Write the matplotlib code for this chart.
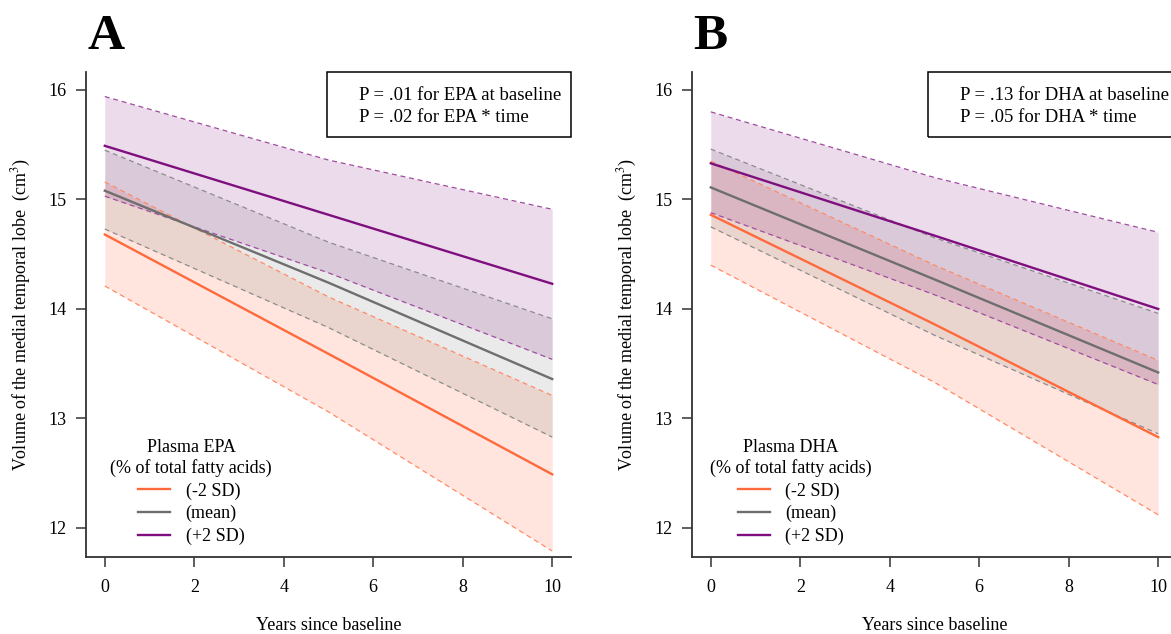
import matplotlib
matplotlib.use("Agg")
import matplotlib.pyplot as plt
from matplotlib.patches import Rectangle
from matplotlib.lines import Line2D

plt.rcParams["font.family"] = ["Liberation Serif", "DejaVu Serif"]
plt.rcParams["mathtext.fontset"] = "stix"

ORANGE = "#FF6A3D"; ORANGE_D = "#FF8A66"
GREY = "#6E6E6E"; GREY_D = "#8C8C8C"
PURPLE = "#7F0F7E"; PURPLE_D = "#A04CA0"
AXC = "#333333"

years = [0, 5, 10]

# Panel A: plasma EPA (fit, upper CI, lower CI)
epa_lo_fit = [14.68, 13.59, 12.49]
epa_lo_upper = [15.16, 14.11, 13.21]
epa_lo_lower = [14.21, 13.06, 11.79]
epa_mean_fit = [15.08, 14.24, 13.36]
epa_mean_upper = [15.45, 14.61, 13.91]
epa_mean_lower = [14.73, 13.83, 12.83]
epa_hi_fit = [15.49, 14.86, 14.23]
epa_hi_upper = [15.94, 15.36, 14.91]
epa_hi_lower = [15.03, 14.33, 13.54]

# Panel B: plasma DHA
dha_lo_fit = [14.86, 13.86, 12.83]
dha_lo_upper = [15.35, 14.40, 13.53]
dha_lo_lower = [14.40, 13.33, 12.12]
dha_mean_fit = [15.11, 14.27, 13.42]
dha_mean_upper = [15.46, 14.65, 13.96]
dha_mean_lower = [14.75, 13.76, 12.86]
dha_hi_fit = [15.33, 14.67, 14.00]
dha_hi_upper = [15.80, 15.20, 14.70]
dha_hi_lower = [14.88, 14.13, 13.31]

group_labels = ["(-2 SD)", "(mean)", "(+2 SD)"]
x_ticks = [0, 2, 4, 6, 8, 10]
y_ticks = [12, 13, 14, 15, 16]

FS = 13


def draw_panel(ax, groups, ptext, leg_title, leg_x, bx):
    styles = [(ORANGE, ORANGE_D, 0.17), (GREY, GREY_D, 0.14), (PURPLE, PURPLE_D, 0.15)]
    for (fit, up, lo), (c, cd, a) in zip(groups, styles):
        ax.fill_between(years, lo, up, color=c, alpha=a, lw=0, zorder=1)
    for (fit, up, lo), (c, cd, a) in zip(groups, styles):
        ax.plot(years, up, color=cd, lw=0.9, dashes=(4, 3), zorder=2)
        ax.plot(years, lo, color=cd, lw=0.9, dashes=(4, 3), zorder=2)
    for (fit, up, lo), (c, cd, a) in zip(groups, styles):
        ax.plot(years, fit, color=c, lw=1.7, zorder=3)

    ax.set_xlim(-0.42, 10.42)
    ax.set_ylim(11.735, 16.164)
    ax.set_xticks(x_ticks)
    ax.set_yticks(y_ticks)
    ax.tick_params(axis="both", direction="out", length=7, width=1.1,
                   color=AXC, labelsize=FS)
    ax.tick_params(axis="x", pad=9)
    ax.tick_params(axis="y", pad=7)
    for s in ["top", "right"]:
        ax.spines[s].set_visible(False)
    for s in ["left", "bottom"]:
        ax.spines[s].set_color(AXC)
        ax.spines[s].set_linewidth(1.3)

    ax.set_xlabel("Years since baseline", fontsize=FS)
    ax.xaxis.set_label_coords(0.5, -0.124)
    ax.set_ylabel("Volume of the medial temporal lobe  (cm$^3$)", fontsize=FS)
    ax.yaxis.set_label_coords(-0.11, 0.5)

    # p-value box in the upper right corner
    ax.add_patch(Rectangle((bx, 0.866), 1.0 - bx, 0.134, transform=ax.transAxes,
                           fill=False, ec="black", lw=1.1, clip_on=False, zorder=5))
    ax.text(bx + 0.066, 0.951, ptext[0], transform=ax.transAxes, fontsize=FS + 0.5,
            ha="left", va="center")
    ax.text(bx + 0.066, 0.907, ptext[1], transform=ax.transAxes, fontsize=FS + 0.5,
            ha="left", va="center")

    handles = [Line2D([], [], color=c, lw=1.7) for c in (ORANGE, GREY, PURPLE)]
    leg = ax.legend(handles, group_labels, title=leg_title, loc="center",
                    bbox_to_anchor=(leg_x, 0.134), frameon=False, fontsize=FS,
                    title_fontsize=FS, handlelength=1.8, handletextpad=0.85,
                    labelspacing=0.3)
    leg.get_title().set_multialignment("center")


fig = plt.figure(figsize=(11.71, 6.34), dpi=100)
axA = fig.add_axes([86 / 1171, 1 - 557 / 634, 485 / 1171, 485 / 634])
axB = fig.add_axes([692 / 1171, 1 - 557 / 634, 485 / 1171, 485 / 634])

draw_panel(axA,
           [(epa_lo_fit, epa_lo_upper, epa_lo_lower),
            (epa_mean_fit, epa_mean_upper, epa_mean_lower),
            (epa_hi_fit, epa_hi_upper, epa_hi_lower)],
           ["P = .01 for EPA at baseline", "P = .02 for EPA * time"],
           "Plasma EPA\n(% of total fatty acids)", 0.2165, 0.497)
draw_panel(axB,
           [(dha_lo_fit, dha_lo_upper, dha_lo_lower),
            (dha_mean_fit, dha_mean_upper, dha_mean_lower),
            (dha_hi_fit, dha_hi_upper, dha_hi_lower)],
           ["P = .13 for DHA at baseline", "P = .05 for DHA * time"],
           "Plasma DHA\n(% of total fatty acids)", 0.204, 0.487)

fig.text(87 / 1171, 1 - 49 / 634, "A", fontsize=37, fontweight="bold", ha="left", va="baseline")
fig.text(693 / 1171, 1 - 49 / 634, "B", fontsize=37, fontweight="bold", ha="left", va="baseline")

fig.savefig("out.png", dpi=100, facecolor="white")
